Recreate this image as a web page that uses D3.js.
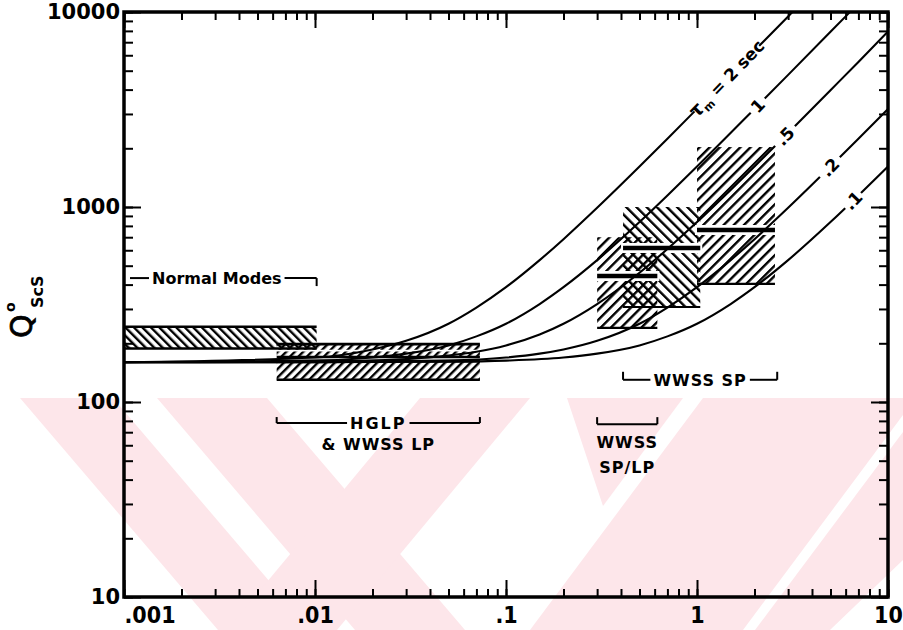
<!DOCTYPE html>
<html><head><meta charset="utf-8">
<script src="https://cdn.jsdelivr.net/npm/d3@7"></script>
<style>
body{margin:0;background:#fff;}
svg{display:block;}
text{font-family:"DejaVu Sans",sans-serif;font-weight:bold;fill:#000;}
</style></head><body>
<svg id="chart" width="903" height="630"></svg>
<script>
// ---- axis ticks ----
const xMajor = [0.001, 0.01, 0.1, 1, 10];
const xMajorLabels = [".001", ".01", ".1", "1", "10"];
const yMajor = [10, 100, 1000, 10000];
const yMajorLabels = ["10", "100", "1000", "10000"];

// ---- model curves Q(f) for several relaxation times (f in Hz) ----
const tau2Freq = [0.001, 0.01, 0.02, 0.03, 0.05, 0.07, 0.1, 0.15, 0.2, 0.3, 0.5, 0.7, 1, 2, 3, 3.2];
const tau2Q    = [160, 169, 186, 206, 252, 305, 388, 534, 684, 991, 1613, 2240, 3185, 6340, 9493, 10120];
const tau1Freq = [0.001, 0.01, 0.02, 0.03, 0.05, 0.07, 0.1, 0.15, 0.2, 0.3, 0.5, 0.7, 1, 2, 3, 5, 6.4];
const tau1Q    = [160, 163, 169, 177, 195, 217, 252, 318, 388, 534, 837, 1146, 1613, 3185, 4760, 7910, 10120];
const tau05Freq = [0.001, 0.01, 0.03, 0.05, 0.07, 0.1, 0.15, 0.2, 0.3, 0.5, 0.7, 1, 1.5, 2, 3, 5, 7, 10];
const tau05Q    = [160, 161, 166, 173, 181, 195, 222, 252, 318, 460, 609, 837, 1224, 1613, 2397, 3972, 5545, 7950];
const tau02Freq = [0.001, 0.01, 0.03, 0.05, 0.1, 0.15, 0.2, 0.3, 0.5, 0.7, 1, 1.5, 2, 3, 5, 7, 10];
const tau02Q    = [160, 160, 162, 163, 169, 177, 186, 206, 252, 305, 388, 534, 684, 991, 1613, 2240, 3185];
const tau01Freq = [0.001, 0.01, 0.05, 0.1, 0.2, 0.3, 0.5, 0.7, 1, 1.5, 2, 3, 5, 7, 10];
const tau01Q    = [160, 160, 161, 163, 169, 177, 195, 217, 252, 318, 388, 534, 837, 1146, 1613];

// curve labels: text, position along each curve
const curveLabels = ["2 sec", "1", ".5", ".2", ".1"];
const curveLabelFreq = [1.43, 2.08, 2.89, 4.97, 6.56];
const curveLabelQ = [4560, 3310, 2310, 1600, 1080];

// ---- observed Q ranges (hatched boxes) ----
const boxNames = ["Normal Modes", "HGLP upper", "HGLP lower", "WWSS SP/LP", "WWSS SP a", "WWSS SP b"];
const boxFreqLow  = [0.001, 0.0063, 0.0063, 0.30, 0.41, 1.0];
const boxFreqHigh = [0.0102, 0.073, 0.073, 0.62, 1.04, 2.56];
const boxQLow  = [188, 170, 130, 240, 307, 403];
const boxQHigh = [243, 198, 162, 700, 1000, 2030];
const boxMeanQ = [null, null, null, 443, 617, 762];

// ---- band brackets ----
const bracketText = ["Normal Modes", "HGLP", "", "WWSS SP"];
const bracketFreqLow  = [0.001, 0.0063, 0.30, 0.41];
const bracketFreqHigh = [0.0102, 0.073, 0.62, 2.63];
const bracketQ = [432, 78, 77, 130];

const W = 903, H = 630;
const svg = d3.select("#chart");
const x = d3.scaleLog().domain([0.001, 10]).range([124, 888]);
const y = d3.scaleLog().domain([10, 10000]).range([597, 12]);

// faint pink page watermark in the lower part of the sheet
const watermark = [
  [[20, 398], [113, 398], [311, 630], [218, 630]],
  [[157, 398], [267, 398], [465, 630], [355, 630]],
  [[420, 398], [530, 398], [337, 630], [227, 630]],
  [[567, 398], [683, 398], [603, 506]],
  [[703, 398], [903, 398], [903, 415], [743, 630], [530, 630]],
  [[903, 432], [903, 560], [830, 630], [755, 630]]
];
svg.append("g").selectAll("polygon").data(watermark).join("polygon")
  .attr("points", d => d.map(p => p.join(",")).join(" "))
  .attr("fill", "#fde6ea");

const defs = svg.append("defs");
defs.append("clipPath").attr("id", "plotClip").append("rect")
  .attr("x", x(0.001)).attr("y", y(10000)).attr("width", x(10) - x(0.001)).attr("height", y(10) - y(10000));

function hatch(id, angle, spacing, width) {
  const p = defs.append("pattern").attr("id", id).attr("patternUnits", "userSpaceOnUse")
    .attr("width", spacing).attr("height", spacing)
    .attr("patternTransform", `rotate(${angle})`);
  p.append("rect").attr("x", 0).attr("y", 0).attr("width", width).attr("height", spacing).attr("fill", "#000");
}
hatch("hatchBack", -45, 6, 2.4);      // "\" lines
hatch("hatchFwd", 45, 6, 2.4);        // "/" lines
hatch("hatchFwdWide", 45, 7.2, 2.4);
hatch("hatchBackWide", -45, 7.2, 2.4);

const plot = svg.append("g").attr("clip-path", "url(#plotClip)");

// hatched boxes
const boxes = boxNames.map((n, i) => ({
  name: n, f0: boxFreqLow[i], f1: boxFreqHigh[i], q0: boxQLow[i], q1: boxQHigh[i], mean: boxMeanQ[i]
}));
const fills = ["url(#hatchBack)", "url(#hatchFwd)", "url(#hatchFwd)", "url(#hatchFwdWide)", "url(#hatchBackWide)", "url(#hatchFwdWide)"];
plot.selectAll("rect.box").data(boxes).join("rect").attr("class", "box")
  .attr("x", d => x(d.f0)).attr("width", d => x(d.f1) - x(d.f0))
  .attr("y", d => y(d.q1)).attr("height", d => y(d.q0) - y(d.q1))
  .attr("fill", (d, i) => fills[i]);

// broken look of the upper HGLP band
plot.append("line")
  .attr("x1", x(boxes[1].f0)).attr("x2", x(boxes[1].f1))
  .attr("y1", (y(boxes[1].q0) + y(boxes[1].q1)) / 2).attr("y2", (y(boxes[1].q0) + y(boxes[1].q1)) / 2)
  .attr("stroke", "#fff").attr("stroke-width", 1.6);

// borders of the low-frequency boxes
[0, 1, 2].forEach(i => {
  const b = boxes[i];
  [b.q0, b.q1].forEach(q => {
    plot.append("line").attr("x1", x(b.f0)).attr("x2", x(b.f1)).attr("y1", y(q)).attr("y2", y(q))
      .attr("stroke", "#000").attr("stroke-width", 2.6);
  });
});
// bottom edges of the WWSS boxes
[3, 4, 5].forEach(i => {
  const b = boxes[i];
  plot.append("line").attr("x1", x(b.f0)).attr("x2", x(b.f1)).attr("y1", y(b.q0)).attr("y2", y(b.q0))
    .attr("stroke", "#000").attr("stroke-width", 2.2);
});

// model curves, broken where labels sit
const curves = [
  tau2Freq.map((f, i) => [f, tau2Q[i]]),
  tau1Freq.map((f, i) => [f, tau1Q[i]]),
  tau05Freq.map((f, i) => [f, tau05Q[i]]),
  tau02Freq.map((f, i) => [f, tau02Q[i]]),
  tau01Freq.map((f, i) => [f, tau01Q[i]])
];
const gapWidths = [92, 20, 28, 28, 22];
const labelAngle = -46;
const mask = defs.append("mask").attr("id", "labelGaps").attr("maskUnits", "userSpaceOnUse")
  .attr("x", 0).attr("y", 0).attr("width", W).attr("height", H);
mask.append("rect").attr("width", W).attr("height", H).attr("fill", "#fff");
curveLabels.forEach((t, i) => {
  const cx = x(curveLabelFreq[i]), cy = y(curveLabelQ[i]);
  mask.append("rect").attr("x", -gapWidths[i] / 2).attr("y", -8).attr("width", gapWidths[i]).attr("height", 16)
    .attr("fill", "#000").attr("transform", `translate(${cx},${cy}) rotate(${labelAngle})`);
});

const line = d3.line().x(d => x(d[0])).y(d => y(d[1])).curve(d3.curveMonotoneX);

// mean values of the WWSS boxes (with white halo)
[3, 4, 5].forEach(i => {
  const b = boxes[i];
  plot.append("line").attr("x1", x(b.f0) - 2).attr("x2", x(b.f1) + 2).attr("y1", y(b.mean)).attr("y2", y(b.mean))
    .attr("stroke", "#fff").attr("stroke-width", 10);
});
plot.append("g").attr("mask", "url(#labelGaps)")
  .selectAll("path").data(curves).join("path")
  .attr("d", line).attr("fill", "none").attr("stroke", "#000").attr("stroke-width", 2.1);
[3, 4, 5].forEach(i => {
  const b = boxes[i];
  plot.append("line").attr("x1", x(b.f0)).attr("x2", x(b.f1)).attr("y1", y(b.mean)).attr("y2", y(b.mean))
    .attr("stroke", "#000").attr("stroke-width", 4.5);
});

// curve labels
curveLabels.forEach((t, i) => {
  const g = svg.append("g").attr("transform", `translate(${x(curveLabelFreq[i])},${y(curveLabelQ[i])}) rotate(${labelAngle})`);
  const txt = g.append("text").attr("text-anchor", "middle").attr("dy", "0.36em").style("font-size", "17px");
  if (i === 0) {
    txt.append("tspan").style("font-size", "19px").text("τ");
    txt.append("tspan").attr("dy", 4).style("font-size", "11px").text("m");
    txt.append("tspan").attr("dy", -4).text(" = " + t);
  } else {
    txt.text(t);
  }
});

// brackets
function bracket(i, endDir) {
  const x0 = x(bracketFreqLow[i]), x1 = x(bracketFreqHigh[i]), yy = y(bracketQ[i]);
  const g = svg.append("g");
  const label = bracketText[i];
  let gapL = null, gapR = null;
  if (label) {
    const cx = i === 0 ? x0 + 28 : (x0 + x1) / 2;
    const t = g.append("text").attr("x", cx).attr("y", yy).attr("dy", "0.36em")
      .attr("text-anchor", i === 0 ? "start" : "middle").style("font-size", "16px").text(label);
    if (i === 1) t.style("letter-spacing", "2px");
    if (i === 3) t.style("letter-spacing", "1px");
    const bb = t.node().getBBox();
    gapL = bb.x - 3; gapR = bb.x + bb.width + 3;
  }
  const segs = gapL === null ? [[x0, x1]] : [[x0 + (i === 0 ? 6 : 0), gapL], [gapR, x1]];
  segs.forEach(s => g.append("line").attr("x1", s[0]).attr("x2", s[1]).attr("y1", yy).attr("y2", yy)
    .attr("stroke", "#000").attr("stroke-width", 2));
  const ends = i === 0 ? [x1] : [x0, x1];
  ends.forEach(ex => g.append("line").attr("x1", ex).attr("x2", ex).attr("y1", yy).attr("y2", yy + endDir)
    .attr("stroke", "#000").attr("stroke-width", 2));
}
bracket(0, 8);
bracket(1, -6);
bracket(2, -7);
bracket(3, -8);

svg.append("text").attr("x", (x(0.0063) + x(0.073)) / 2).attr("y", y(bracketQ[1]) + 27)
  .attr("text-anchor", "middle").style("font-size", "16px").style("letter-spacing", "1px").text("& WWSS LP");
svg.append("text").attr("x", (x(0.30) + x(0.62)) / 2).attr("y", y(bracketQ[2]) + 24)
  .attr("text-anchor", "middle").style("font-size", "16px").style("letter-spacing", "1px").text("WWSS");
svg.append("text").attr("x", (x(0.30) + x(0.62)) / 2).attr("y", y(bracketQ[2]) + 49)
  .attr("text-anchor", "middle").style("font-size", "16px").style("letter-spacing", "1px").text("SP/LP");

// ---- axes ----
function styleAxis(g) {
  g.select(".domain").remove();
  g.selectAll(".tick line").attr("stroke", "#000").attr("stroke-width", 2);
}
const xMinor = x.ticks();
const yMinor = y.ticks();
const bottomMinor = svg.append("g").attr("transform", `translate(0,${y(10)})`)
  .call(d3.axisBottom(x).tickValues(xMinor).tickSizeInner(-8).tickSizeOuter(0).tickFormat(""));
const bottomMajor = svg.append("g").attr("transform", `translate(0,${y(10)})`)
  .call(d3.axisBottom(x).tickValues(xMajor).tickSizeInner(-17).tickSizeOuter(0).tickPadding(10)
    .tickFormat((d, i) => xMajorLabels[i]));
const topMinor = svg.append("g").attr("transform", `translate(0,${y(10000)})`)
  .call(d3.axisTop(x).tickValues(xMinor).tickSizeInner(-8).tickSizeOuter(0).tickFormat(""));
const topMajor = svg.append("g").attr("transform", `translate(0,${y(10000)})`)
  .call(d3.axisTop(x).tickValues(xMajor).tickSizeInner(-16).tickSizeOuter(0).tickFormat(""));
const leftMinor = svg.append("g").attr("transform", `translate(${x(0.001)},0)`)
  .call(d3.axisLeft(y).tickValues(yMinor).tickSizeInner(-9).tickSizeOuter(0).tickFormat(""));
const leftMajor = svg.append("g").attr("transform", `translate(${x(0.001)},0)`)
  .call(d3.axisLeft(y).tickValues(yMajor).tickSizeInner(-17).tickSizeOuter(0).tickPadding(4)
    .tickFormat((d, i) => yMajorLabels[i]));
const rightMinor = svg.append("g").attr("transform", `translate(${x(10)},0)`)
  .call(d3.axisRight(y).tickValues(yMinor).tickSizeInner(-9).tickSizeOuter(0).tickFormat(""));
const rightMajor = svg.append("g").attr("transform", `translate(${x(10)},0)`)
  .call(d3.axisRight(y).tickValues(yMajor).tickSizeInner(-17).tickSizeOuter(0).tickFormat(""));
[bottomMinor, bottomMajor, topMinor, topMajor, leftMinor, leftMajor, rightMinor, rightMajor].forEach(styleAxis);

bottomMajor.selectAll(".tick text").attr("fill", "#000")
  .style("font-family", "'Liberation Sans Narrow','DejaVu Sans Condensed',sans-serif")
  .style("font-weight", "bold").style("font-size", "23px");
bottomMajor.selectAll(".tick").filter(d => d === 0.001).select("text").attr("text-anchor", "start").attr("dx", 0);
leftMajor.selectAll(".tick text").attr("fill", "#000")
  .style("font-family", "'DejaVu Sans',sans-serif").style("font-weight", "bold").style("font-size", "21px");

// frame
svg.append("rect").attr("x", x(0.001)).attr("y", y(10000))
  .attr("width", x(10) - x(0.001)).attr("height", y(10) - y(10000))
  .attr("fill", "none").attr("stroke", "#000").attr("stroke-width", 3.5);

// y-axis title: Q°ScS
const yt = svg.append("g").attr("transform", "translate(21,324) rotate(-90)");
yt.append("text").attr("x", -14).attr("y", 11).style("font-size", "30px").style("font-weight", "normal")
  .style("stroke", "#000").style("stroke-width", 0.8).text("Q");
yt.append("text").attr("x", 12).attr("y", -6).style("font-size", "14px").text("o");
yt.append("text").attr("x", 16).attr("y", 22).style("font-size", "16px").text("ScS");
</script>
</body></html>
